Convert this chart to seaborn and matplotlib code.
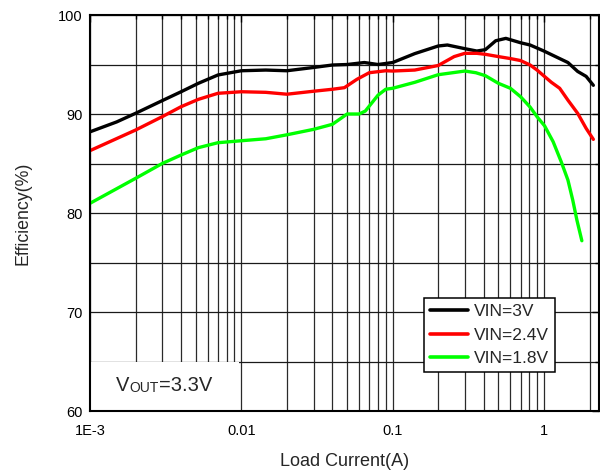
import numpy as np
import pandas as pd
import matplotlib
matplotlib.use("Agg")
import matplotlib.pyplot as plt
from matplotlib.patches import Rectangle
from matplotlib.ticker import NullFormatter
import seaborn as sns

# Load current (A) and efficiency (%) for each input voltage
current_3v = [0.001, 0.0015, 0.002, 0.003, 0.004, 0.0052, 0.007, 0.01, 0.0145,
              0.02, 0.03, 0.04, 0.05, 0.065, 0.08, 0.1, 0.14, 0.2, 0.23, 0.3,
              0.36, 0.41, 0.48, 0.56, 0.7, 0.81, 1.0, 1.23, 1.44, 1.67, 1.9, 2.12]
eff_3v = [88.2, 89.2, 90.07, 91.35, 92.25, 93.1, 93.94, 94.37, 94.44,
          94.37, 94.7, 94.95, 95.0, 95.2, 95.0, 95.2, 96.1, 96.87, 96.97, 96.6,
          96.36, 96.5, 97.4, 97.64, 97.2, 96.97, 96.36, 95.7, 95.2, 94.3, 93.8, 92.9]

current_24v = [0.001, 0.002, 0.003, 0.004, 0.0052, 0.007, 0.01, 0.0145, 0.02,
               0.03, 0.04, 0.048, 0.058, 0.07, 0.09, 0.1, 0.14, 0.2, 0.255, 0.3,
               0.36, 0.41, 0.5, 0.6, 0.7, 0.81, 0.9, 1.0, 1.12, 1.27, 1.44, 1.67,
               1.9, 2.12]
eff_24v = [86.3, 88.38, 89.73, 90.74, 91.48, 92.09, 92.25, 92.19, 92.0,
           92.3, 92.5, 92.66, 93.5, 94.17, 94.37, 94.34, 94.44, 94.9, 95.8, 96.13,
           96.13, 96.03, 95.8, 95.6, 95.4, 94.95, 94.44, 93.84, 93.2, 92.6, 91.4, 90.07,
           88.55, 87.44]

current_18v = [0.001, 0.002, 0.003, 0.004, 0.0052, 0.007, 0.01, 0.0145, 0.02,
               0.03, 0.04, 0.05, 0.06, 0.066, 0.08, 0.09, 0.1, 0.14, 0.2, 0.3,
               0.355, 0.41, 0.5, 0.6, 0.7, 0.81, 0.9, 1.01, 1.15, 1.3, 1.44, 1.55,
               1.65, 1.78]
eff_18v = [80.98, 83.5, 85.0, 85.86, 86.6, 87.1, 87.3, 87.5, 87.9,
           88.45, 88.96, 90.0, 90.0, 90.3, 91.9, 92.5, 92.6, 93.2, 93.97, 94.34,
           94.17, 93.87, 93.1, 92.6, 91.75, 90.7, 89.73, 88.8, 87.2, 85.18, 83.33, 81.3,
           79.3, 77.2]

series_labels = ["VIN=3V", "VIN=2.4V", "VIN=1.8V"]
series_colors = ["#000000", "#ff0000", "#00ff00"]

x_ticks = [1e-3, 0.01, 0.1, 1]
x_tick_labels = ["1E-3", "0.01", "0.1", "1"]
y_ticks = [60, 70, 80, 90, 100]
y_minor_ticks = [65, 75, 85, 95]

sns.set_style("white")
plt.rcParams["font.family"] = ["Liberation Sans", "DejaVu Sans"]

df = pd.concat([
    pd.DataFrame({"current": current_3v, "eff": eff_3v, "series": series_labels[0]}),
    pd.DataFrame({"current": current_24v, "eff": eff_24v, "series": series_labels[1]}),
    pd.DataFrame({"current": current_18v, "eff": eff_18v, "series": series_labels[2]}),
], ignore_index=True)

fig = plt.figure(figsize=(6, 4.72), dpi=100)
ax = fig.add_axes([0.15, 0.1292, 0.8483, 0.839])
ax.set_xscale("log")
ax.set_xlim(1e-3, 2.31)
ax.set_ylim(60, 100)

# Full log grid: every decade and sub-decade line, plus every 5 % horizontally
grid_x = [m * 10.0 ** e for e in range(-3, 0) for m in range(1, 10)] + [1, 2]
for xv in grid_x:
    ax.axvline(xv, color="#2a2a2a", lw=0.9, zorder=0.5)
for yv in range(60, 101, 5):
    ax.axhline(yv, color="#1a1a1a", lw=0.9, zorder=0.5)

# Blank panel behind the output-voltage note
ax.add_patch(Rectangle((1e-3, 60), 0.0097 - 1e-3, 5, facecolor="white",
                       edgecolor="none", zorder=1))

sns.lineplot(data=df, x="current", y="eff", hue="series",
             hue_order=series_labels, palette=series_colors,
             estimator=None, sort=False, lw=2.4, ax=ax, zorder=3)

ax.set_xticks(x_ticks, x_tick_labels)
ax.xaxis.set_minor_formatter(NullFormatter())
ax.set_yticks(y_ticks)
ax.set_yticks(y_minor_ticks, minor=True)
ax.tick_params(axis="both", which="both", direction="in", colors="black",
               labelsize=10.5, right=True, top=True)
ax.tick_params(axis="both", which="major", length=5, width=1)
ax.tick_params(axis="both", which="minor", length=3, width=1)
ax.tick_params(axis="x", which="major", pad=9)
ax.tick_params(axis="y", which="major", pad=5.5)

ax.set_xlabel("Load Current(A)", fontsize=13, labelpad=11)
ax.set_ylabel("Efficiency(%)", fontsize=12.8, labelpad=19)

for side in ["left", "bottom", "top", "right"]:
    ax.spines[side].set_color("black")
    ax.spines[side].set_linewidth(1.5)
    ax.spines[side].set_zorder(5)

sns.move_legend(ax, loc="upper left", bbox_to_anchor=(0.656, 0.285),
                title=None, frameon=True, fancybox=False, framealpha=1,
                edgecolor="black", fontsize=12.5, handlelength=2.2,
                handletextpad=0.35, borderpad=0.35, labelspacing=0.48,
                borderaxespad=0)
leg = ax.get_legend()
leg.get_frame().set_linewidth(1.1)
leg.set_zorder(6)
for line in leg.get_lines():
    line.set_linewidth(2.6)

# Output-voltage note with small-caps style subscript
t1 = ax.text(0.051, 0.051, "V", transform=ax.transAxes, fontsize=14.5,
             va="baseline", ha="left", zorder=4)
t2 = ax.annotate("OUT", xy=(1, 0), xycoords=t1, va="bottom", ha="left",
                 fontsize=10, zorder=4)
t3 = ax.annotate("=3.3V", xy=(1, 0), xycoords=t2, va="bottom", ha="left",
                 fontsize=14.5, zorder=4)

fig.savefig("out.png", dpi=100)
